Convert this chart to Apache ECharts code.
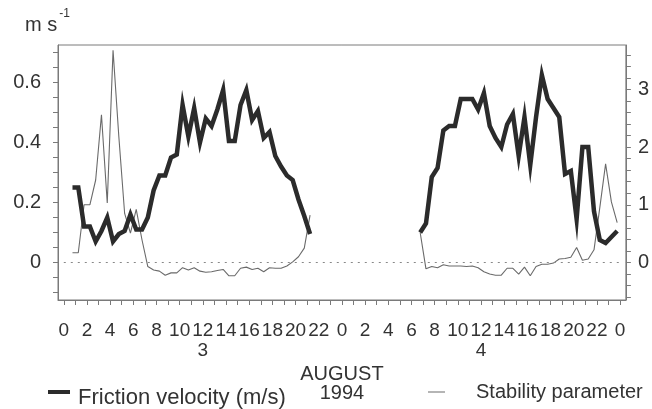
<!DOCTYPE html>
<html>
<head>
<meta charset="utf-8">
<script src="https://cdn.jsdelivr.net/npm/echarts@6/dist/echarts.min.js"></script>
<style>
  html, body { margin: 0; padding: 0; background: #fff; }
  #chart { width: 652px; height: 409px; }
</style>
</head>
<body>
<div id="chart"></div>
<script>
// half-hourly averages, 3-4 August 1994 (hours counted from 00:00 on the 3rd)
const sampleHours = Array.from({ length: 96 }, (_, k) => 0.25 + 0.5 * k);

const frictionVelocity = [
  null, 0.25, 0.25, 0.12, 0.12, 0.07, 0.105, 0.15, 0.07, 0.095, 0.105, 0.16,
  0.11, 0.11, 0.15, 0.24, 0.29, 0.29, 0.35, 0.36, 0.525, 0.42, 0.515, 0.40,
  0.48, 0.455, 0.51, 0.575, 0.405, 0.405, 0.525, 0.575, 0.475, 0.505, 0.415, 0.435,
  0.355, 0.32, 0.29, 0.275, 0.21, 0.155, 0.095, null, null, null, null, null,
  null, null, null, null, null, null, null, null, null, null, null, null,
  null, 0.10, 0.13, 0.285, 0.315, 0.44, 0.455, 0.455, 0.545, 0.545, 0.545, 0.51,
  0.565, 0.455, 0.415, 0.385, 0.46, 0.495, 0.355, 0.485, 0.325, 0.485, 0.625, 0.545,
  0.515, 0.485, 0.295, 0.305, 0.145, 0.385, 0.385, 0.17, 0.075, 0.065, 0.085, 0.105
];

const stabilityParameter = [
  null, 0.17, 0.17, 1.0, 1.0, 1.43, 2.56, 1.03, 3.68, 2.18, 0.85, 0.51,
  0.92, 0.39, -0.07, -0.13, -0.15, -0.22, -0.18, -0.18, -0.09, -0.13, -0.09, -0.15,
  -0.17, -0.16, -0.14, -0.12, -0.23, -0.23, -0.1, -0.08, -0.12, -0.1, -0.16, -0.09,
  -0.1, -0.1, -0.06, 0.01, 0.1, 0.25, 0.82, null, null, null, null, null,
  null, null, null, null, null, null, null, null, null, null, null, null,
  null, 0.52, -0.11, -0.07, -0.09, -0.04, -0.06, -0.06, -0.06, -0.07, -0.06, -0.09,
  -0.16, -0.2, -0.22, -0.22, -0.1, -0.1, -0.2, -0.08, -0.23, -0.07, -0.03, -0.03,
  -0.01, 0.06, 0.07, 0.09, 0.26, 0.04, 0.06, 0.22, 0.95, 1.71, 1.05, 0.69
];

const hourLabels = [0, 2, 4, 6, 8, 10, 12, 14, 16, 18, 20, 22, 24, 26, 28, 30, 32, 34, 36, 38, 40, 42, 44, 46, 48];
const hourTicks = Array.from({ length: 49 }, (_, i) => i);
const dayLabelHours = [12, 36];
const dayNames = ['3', '4'];
const leftLabels = [0, 0.2, 0.4, 0.6];
const leftTicks = [-0.1, -0.05, 0, 0.05, 0.1, 0.15, 0.2, 0.25, 0.3, 0.35, 0.4, 0.45, 0.5, 0.55, 0.6, 0.65, 0.7];
const rightLabels = [0, 1, 2, 3];
const rightTicks = [-0.6, -0.4, -0.2, 0, 0.2, 0.4, 0.6, 0.8, 1, 1.2, 1.4, 1.6, 1.8, 2, 2.2, 2.4, 2.6, 2.8, 3, 3.2, 3.4, 3.6];

const fvData = sampleHours.map((h, i) => [h, frictionVelocity[i]]);
const spData = sampleHours.map((h, i) => [h, stabilityParameter[i]]);

const FV = 'Friction velocity (m/s)';
const SP = 'Stability parameter';

const font = "'Liberation Sans', Arial, sans-serif";
const axisGrey = '#7a7a7a';
const textCol = '#333';

const chart = echarts.init(document.getElementById('chart'), null, { renderer: 'canvas' });

const option = {
  backgroundColor: '#fff',
  animation: false,
  textStyle: { fontFamily: font },
  title: {
    text: 'm s{sup|-1}',
    left: 25,
    top: 8,
    padding: 0,
    textStyle: {
      fontFamily: font,
      fontSize: 20,
      fontWeight: 'normal',
      color: textCol,
      rich: {
        sup: { fontFamily: font, fontSize: 12, color: textCol, padding: [0, 0, 22, 2] }
      }
    }
  },
  grid: {
    left: 58,
    right: 25,
    top: 45,
    bottom: 109,
    show: true,
    borderColor: axisGrey,
    borderWidth: 1,
    backgroundColor: 'transparent'
  },
  legend: [
    {
      // thick line swatch sits a little above its text, so it gets its own legend
      data: [FV],
      left: 48,
      top: 390,
      padding: 0,
      icon: 'rect',
      itemWidth: 22,
      itemHeight: 4,
      formatter: () => ''
    },
    {
      data: [FV],
      left: 51,
      top: 387,
      padding: 0,
      icon: 'rect',
      itemWidth: 22,
      itemHeight: 4,
      itemStyle: { opacity: 0 },
      textStyle: { fontFamily: font, fontSize: 22, color: textCol }
    },
    {
      data: [SP],
      left: 428,
      top: 382,
      padding: 0,
      icon: 'rect',
      itemWidth: 17,
      itemHeight: 1,
      textStyle: { fontFamily: font, fontSize: 20, color: textCol, padding: [0, 0, 0, 26] }
    }
  ],
  xAxis: [
    {
      type: 'value',
      min: -0.5,
      max: 48.5,
      position: 'bottom',
      splitLine: { show: false },
      axisLine: { show: true, onZero: false, lineStyle: { color: axisGrey } },
      axisTick: { show: true, length: 5, customValues: hourTicks, lineStyle: { color: axisGrey } },
      axisLabel: {
        customValues: hourLabels,
        margin: 21,
        fontSize: 19,
        fontFamily: font,
        color: textCol,
        formatter: (v) => String(Math.round(v) % 24)
      }
    },
    {
      type: 'value',
      min: -0.5,
      max: 48.5,
      position: 'bottom',
      splitLine: { show: false },
      axisLine: { show: false, onZero: false },
      axisTick: { show: false },
      axisLabel: {
        customValues: dayLabelHours,
        margin: 41,
        fontSize: 19,
        fontFamily: font,
        color: textCol,
        formatter: (v) => dayNames[dayLabelHours.indexOf(v)]
      },
      name: 'AUGUST\n1994',
      nameLocation: 'middle',
      nameGap: 62,
      nameTextStyle: { fontFamily: font, fontSize: 20, color: textCol, lineHeight: 19 }
    }
  ],
  yAxis: [
    {
      type: 'value',
      position: 'left',
      min: -0.125,
      max: 0.725,
      splitLine: { show: false },
      axisLine: { show: true, onZero: false, lineStyle: { color: axisGrey } },
      axisTick: { show: true, length: 5, customValues: leftTicks, lineStyle: { color: axisGrey } },
      axisLabel: {
        customValues: leftLabels,
        margin: 17,
        fontSize: 20,
        fontFamily: font,
        color: textCol,
        formatter: (v) => (v === 0 ? '0' : v.toFixed(1))
      }
    },
    {
      type: 'value',
      position: 'right',
      min: -0.65,
      max: 3.77,
      splitLine: { show: false },
      axisLine: { show: true, onZero: false, lineStyle: { color: axisGrey } },
      axisTick: { show: true, length: 5, customValues: rightTicks, lineStyle: { color: axisGrey } },
      axisLabel: {
        customValues: rightLabels,
        margin: 12,
        fontSize: 20,
        fontFamily: font,
        color: textCol,
        formatter: (v) => String(v)
      }
    }
  ],
  series: [
    {
      name: SP,
      type: 'line',
      xAxisIndex: 0,
      yAxisIndex: 1,
      data: spData,
      showSymbol: false,
      symbol: 'none',
      lineStyle: { color: '#6a6a6a', width: 1.1 },
      itemStyle: { color: '#6a6a6a' },
      z: 2
    },
    {
      name: FV,
      type: 'line',
      xAxisIndex: 0,
      yAxisIndex: 0,
      data: fvData,
      showSymbol: false,
      symbol: 'none',
      lineStyle: { color: '#2b2b2b', width: 4.5, join: 'miter' },
      itemStyle: { color: '#2b2b2b' },
      z: 3,
      markLine: {
        silent: true,
        symbol: 'none',
        label: { show: false },
        lineStyle: { color: '#888', type: [2, 5], width: 1 },
        data: [[{ coord: [0, 0] }, { coord: [48, 0] }]]
      }
    }
  ]
};

chart.setOption(option);
window.addEventListener('resize', () => chart.resize());
</script>
</body>
</html>
